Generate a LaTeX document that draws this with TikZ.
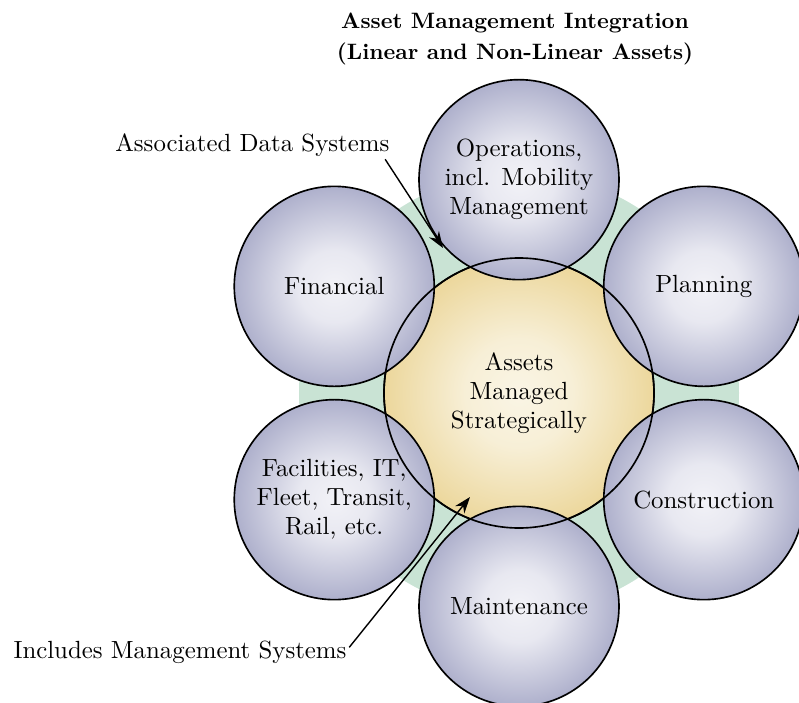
\documentclass[tikz,border=0pt]{standalone}
\usepackage{xcolor}
\usepackage{tikz}
\usetikzlibrary{arrows.meta, positioning}

\definecolor{satedge}{RGB}{174,176,204}
\definecolor{satmid}{RGB}{242,242,247}
\definecolor{coreedge}{RGB}{236,215,156}
\definecolor{coremid}{RGB}{250,245,229}
\definecolor{ringgreen}{RGB}{201,227,212}

\pgfdeclareradialshading{satshade}{\pgfpoint{0bp}{0bp}}{color(0bp)=(satmid); color(9bp)=(satmid!85!satedge); color(25bp)=(satedge); color(50bp)=(satedge)}
\pgfdeclareradialshading{coreshade}{\pgfpoint{0bp}{0bp}}{color(0bp)=(coremid); color(10bp)=(coremid!80!coreedge); color(25bp)=(coreedge); color(50bp)=(coreedge)}

\begin{document}
\begin{tikzpicture}[
            font=\fontsize{10.6}{12.4}\selectfont,
            sat/.style={circle, draw, line width=0.7pt, shading=satshade,
                        minimum size=3cm, inner sep=0pt, align=center},
            core/.style={circle, draw, line width=0.7pt, shading=coreshade,
                        minimum size=4.05cm, inner sep=0pt, align=center},
            ring/.style={circle, fill=ringgreen, minimum size=6.6cm},
            label/.style={inner sep=1pt, align=center},
            pointer/.style={-{Stealth[length=7pt, width=5pt]}, semithick}
        ]
        \useasboundingbox (-7.785,-4.635) rectangle (4.2,5.895);

        % Title
        \node[label, font=\bfseries\fontsize{9.5}{13.2}\selectfont] (title) at (-0.06, 5.31)
            {Asset Management Integration\\(Linear and Non-Linear Assets)};

        % Background rings
        \node[ring] (ring) at (0,0) {};
        \node[core] (core) at (0,0) {Assets\\Managed\\Strategically};

        % Nodes (placed round the core)
        \node[sat] (ops) at (90:3.2) {Operations,\\incl. Mobility\\Management};
        \node[sat] (plan) at (30:3.2) {Planning};
        \node[sat] (cons) at (-30:3.2) {Construction};
        \node[sat] (maint) at (-90:3.2) {Maintenance};
        \node[sat] (fac) at (-150:3.2) {Facilities, IT,\\Fleet, Transit,\\Rail, etc.};
        \node[sat] (fin) at (150:3.2) {Financial};

        % core outline over the overlaps
        \draw[line width=0.7pt] (core.center) circle[radius=2.025cm];

        % Callouts
        \node[label] (ads) at (-4.0, 3.72) {Associated Data Systems};
        \node[label] (ims) at (-5.085, -3.885) {Includes Management Systems};
        \coordinate (adstip) at (-1.14, 2.175);
        \coordinate (imstip) at (-0.735, -1.56);

        \draw[pointer] ([xshift=-3pt]ads.south east) -- (adstip);
        \draw[pointer] ([yshift=2pt]ims.east) -- (imstip);

    \end{tikzpicture}
\end{document}
